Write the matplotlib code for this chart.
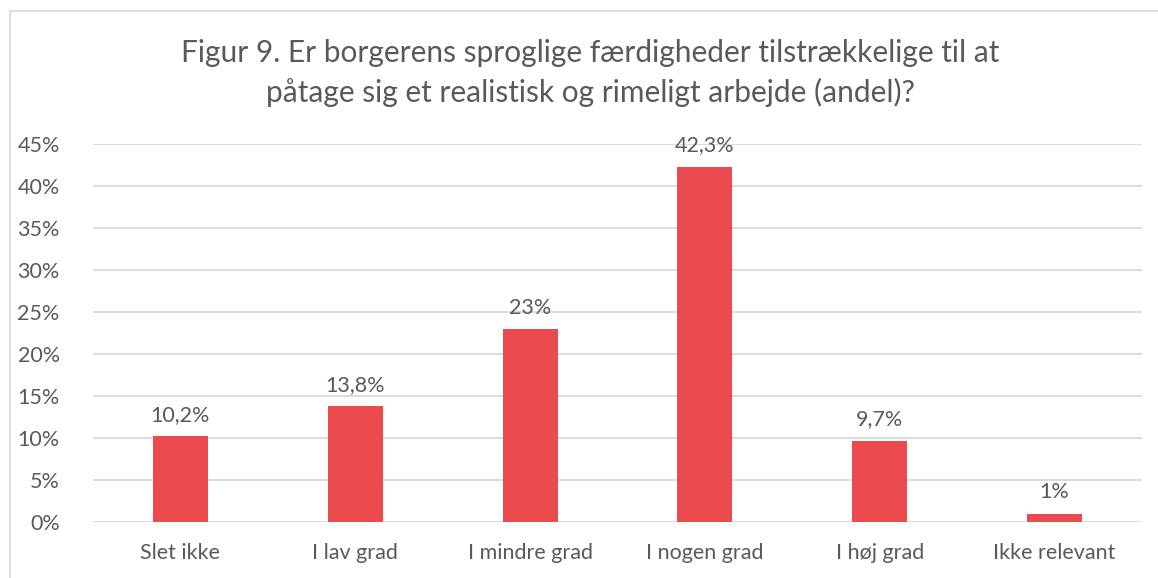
import matplotlib
matplotlib.use("Agg")
import matplotlib.pyplot as plt
from matplotlib.ticker import MultipleLocator, FuncFormatter
from matplotlib.lines import Line2D

categories = ["Slet ikke", "I lav grad", "I mindre grad", "I nogen grad", "I høj grad", "Ikke relevant"]
values = [10.2, 13.8, 23.0, 42.3, 9.7, 1.0]
labels = ["10,2%", "13,8%", "23%", "42,3%", "9,7%", "1%"]
title = "Figur 9. Er borgerens sproglige færdigheder tilstrækkelige til at\npåtage sig et realistisk og rimeligt arbejde (andel)?"

plt.rcParams['font.family'] = ['Lato', 'DejaVu Sans']
text_color = "#595959"
bar_color = "#EB4B4F"
grid_color = "#D9D9D9"

fig = plt.figure(figsize=(11.58, 5.78), dpi=100)
W, H = 1158, 578
ax = fig.add_axes([93 / W, 1 - 522 / H, (1142 - 93) / W, (522 - 144) / H])

x = list(range(len(categories)))
ax.bar(x, values, width=0.315, color=bar_color, zorder=3)
ax.set_xlim(-0.5, len(categories) - 0.5)
ax.set_ylim(0, 45)
ax.yaxis.set_major_locator(MultipleLocator(5))
ax.yaxis.set_major_formatter(FuncFormatter(lambda v, p: f"{int(round(v))}%"))
ax.grid(axis="y", color=grid_color, linewidth=1.3, zorder=0)
for s in ax.spines.values():
    s.set_visible(False)
ax.tick_params(axis="both", length=0, labelsize=15.5, labelcolor=text_color)
ax.tick_params(axis="y", pad=24)
ax.tick_params(axis="x", pad=15)
ax.set_xticks(x)
ax.set_xticklabels(categories)

for xi, v, lab in zip(x, values, labels):
    ax.annotate(lab, (xi, v), xytext=(0, 8), textcoords="offset points",
                ha="center", va="bottom", fontsize=15.5, color=text_color)

fig.text(590 / W, 1 - 73 / H, title, ha="center", va="center", fontsize=21.5,
         color=text_color, linespacing=1.45)

# chart border (left and top)
fig.add_artist(Line2D([9.5 / W, 9.5 / W], [0, 1 - 10.5 / H], transform=fig.transFigure,
                      color=grid_color, linewidth=1.2))
fig.add_artist(Line2D([9.5 / W, 1], [1 - 10.5 / H, 1 - 10.5 / H], transform=fig.transFigure,
                      color=grid_color, linewidth=1.2))

fig.savefig("out.png", dpi=100)
